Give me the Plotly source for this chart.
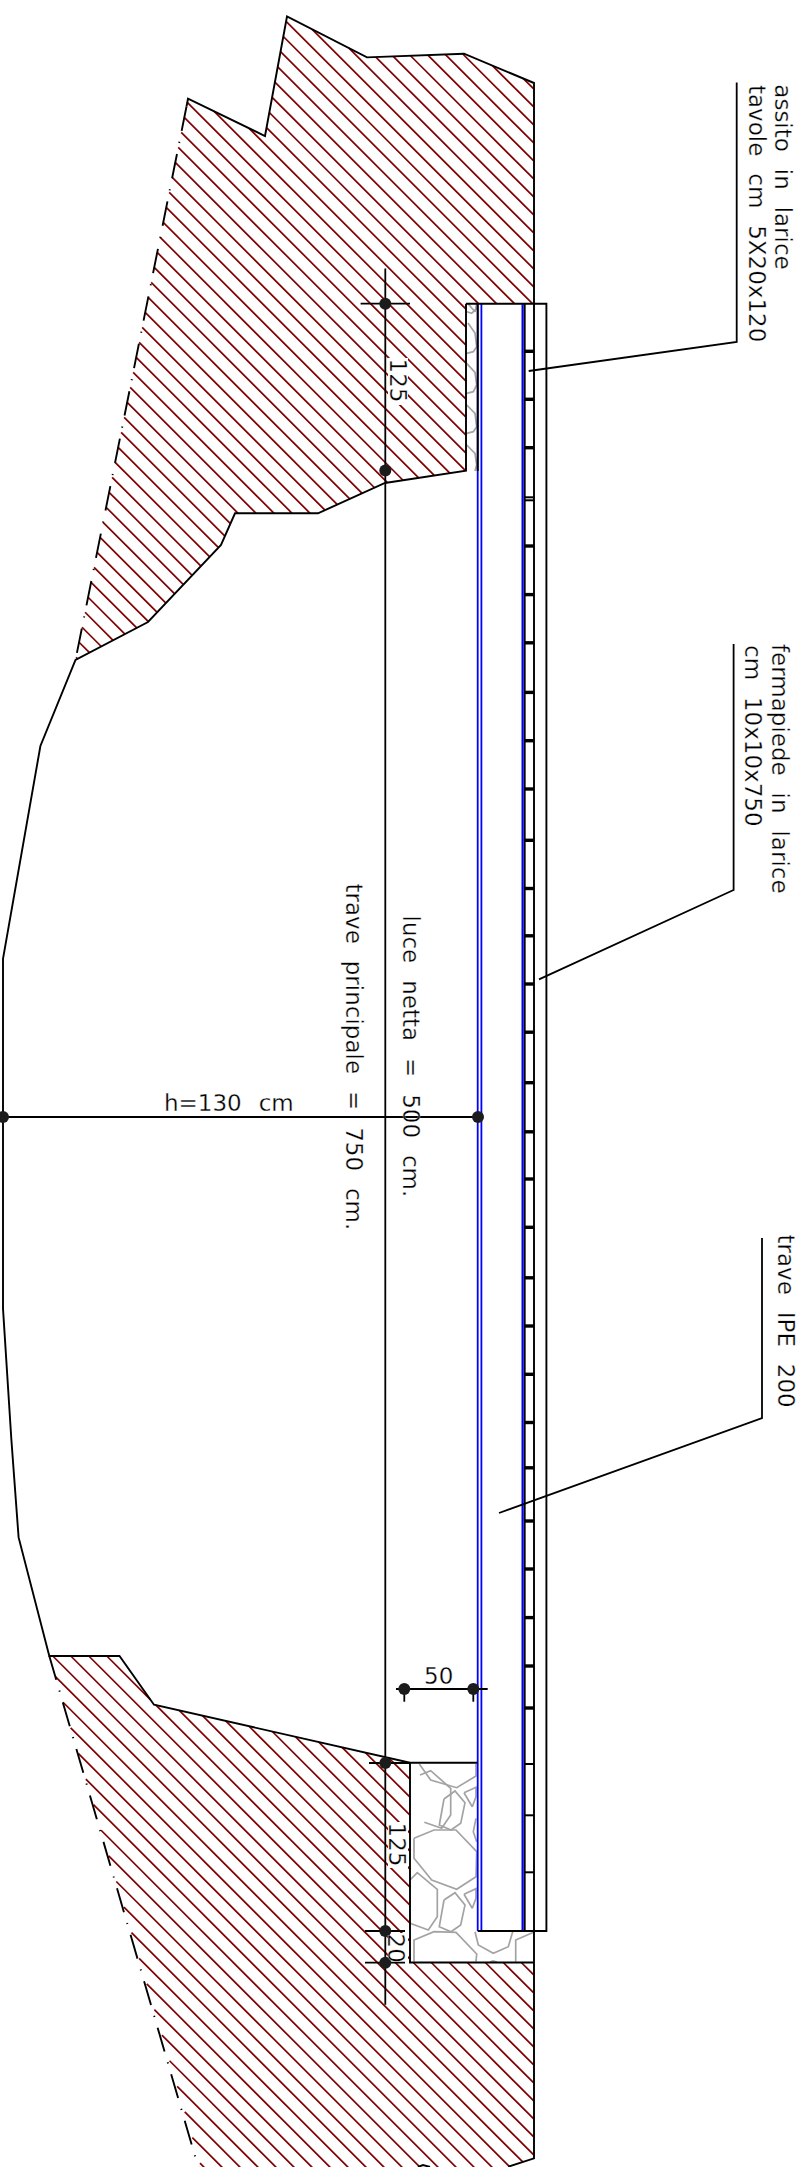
import plotly.graph_objects as go

W, H = 811, 2167

# ---- terrain outlines (drawing units = pixels of the sheet) ----
upper_bank = [(287, 16.5), (367, 57.4), (464, 53.7), (534, 83), (534, 303.7), (466, 303.7), (466, 470.6),
              (385, 483), (318, 513.3), (235, 513.3), (221, 545), (148, 622), (75.5, 660), (188, 98.7), (265, 136)]
lower_bank = [(49.3, 1656), (119.5, 1656), (154, 1704.7), (410, 1762.7), (410, 1962.5), (534, 1962.5),
              (534, 2158.3), (508.3, 2166.7), (505, 2170), (202, 2170)]
UPPER_PHASE, LOWER_PHASE, HATCH_STEP = 5.2, 1.2, 18

upper_outline_solid = [(186.5, 106.5), (188, 98.7), (265, 136), (287, 16.5), (367, 57.4), (464, 53.7), (534, 83),
                       (534, 303.7)]
upper_outline_b = [(466, 303.7), (466, 470.6), (385, 483), (318, 513.3), (235, 513.3), (221, 545), (148, 622),
                   (75.5, 660), (40.4, 746), (3, 958.8), (3, 1308.6), (11.4, 1440), (18.6, 1537.4), (49.3, 1656),
                   (119.5, 1656), (154, 1704.7), (410, 1762.7), (477.7, 1762.7)]
left_dash_upper = [(186.5, 106.5), (75.5, 660)]
left_dash_lower = [(49.3, 1656), (202, 2180)]
river_right = [(534, 303.7), (534, 2158.3), (508.3, 2166.7)]
abutment = [(410, 1762.7), (410, 1962.5), (534, 1962.5)]
deck_box = [(477.7, 1931), (546.4, 1931), (546.4, 303.7), (466, 303.7)]
wall_top = [(477.7, 303.7), (477.7, 471)]
inner_rail = [(524.7, 303.7), (524.7, 1931)]
bottom_bit = [(418, 2167), (423, 2165), (430, 2167)]

blue_a = [(477.7, 303.7), (477.7, 1931)]
blue_b = [(481.4, 303.7), (481.4, 1931)]
blue_c = [(522.6, 303.7), (522.6, 1931)]

plank_thick = [351.3, 399.3, 447.7, 546, 594.6, 642.8, 692.4, 740.7, 789, 840.3, 888.5, 935.8, 984, 1032.2,
               1082.7, 1131.8, 1179, 1227.3, 1277.8, 1326, 1374.3, 1422.5, 1467.8, 1521, 1569, 1617.6, 1666, 1708]
plank_thin = [497.3, 500.3, 1764, 1815.3, 1872.3]

# ---- dimension lines ----
dim_lines = [
    [(385.3, 268.6), (385.3, 2004.7)],
    [(360.6, 303.7), (410, 303.7)],
    [(3, 1117), (478, 1117)],
    [(396, 1689), (487.7, 1689)],
    [(404.3, 1689), (404.3, 1701.7)],
    [(473.3, 1689), (473.3, 1701.7)],
    [(369, 1763), (410, 1763)],
    [(365, 1931), (405, 1931)],
    [(365, 1962.7), (405, 1962.7)],
]
dim_dots_x = [385.3, 385.3, 3, 478, 404.3, 473.3, 385.3, 385.3, 385.3]
dim_dots_y = [303.7, 470.6, 1117, 1117, 1689, 1689, 1763, 1931, 1962.7]

# ---- leaders ----
leaders = [
    [(736.7, 82.6), (736.7, 342), (528.7, 371)],
    [(733.6, 644), (733.6, 890), (539, 979.4)],
    [(762, 1238), (762, 1418), (499, 1513)],
]

# ---- stones (grey) ----
stones = [
    [(420, 1775), (430.7, 1770.7), (450.7, 1788.3), (450.7, 1815), (441.7, 1828.3), (424.3, 1822.3)],
    [(419.3, 1764), (430.7, 1780), (456.7, 1787.7), (476, 1776), (476, 1764)],
    [(444, 1799), (455, 1791), (465, 1802.7), (460.7, 1823.3), (451, 1830), (439.3, 1825), (444, 1799)],
    [(464, 1792.7), (476, 1787.3), (476, 1796.7), (472.3, 1806.7), (464, 1792.7)],
    [(414, 1838.3), (434, 1830), (456, 1830), (476.7, 1851.7), (476, 1876.7), (456.7, 1889.3), (431.7, 1880),
     (414, 1858.3), (414, 1838.3)],
    [(410, 1880), (417.3, 1872.7), (437.3, 1889.3), (437.3, 1916.7), (428.3, 1930), (410, 1923.3)],
    [(444, 1900), (455, 1892.7), (465, 1905), (460.7, 1925), (451, 1931.7), (439.3, 1926.7), (444, 1900)],
    [(464, 1894.3), (476, 1888.7), (476, 1898.3), (472.3, 1908.3), (464, 1894.3)],
    [(414, 1961.7), (414, 1940), (434, 1931.7), (456, 1932.3), (476.7, 1954), (476, 1961.7)],
    [(476, 1818.3), (473.3, 1831.7), (476.7, 1841.7)],
    [(475, 1931.7), (478.3, 1945), (493.3, 1953.3), (508.3, 1946.7), (512.7, 1931.7)],
    [(515.7, 1961.7), (515.7, 1940), (534.7, 1931.7)],
    [(490, 1962), (493, 1961), (497, 1962)],
    # scalloped strip under the upper beam seat
    [(468, 323), (475, 333), (476.7, 346.7), (473.3, 351.7), (466.7, 353.3)],
    [(466.7, 363.3), (475, 372.3), (476.7, 385), (473.3, 391.7), (466.7, 393.3)],
    [(466.7, 405), (475, 413.3), (476.7, 426.7), (473.3, 431.7), (466.7, 433.3)],
    [(466.7, 445), (475, 453.3), (476.7, 465), (475, 471)],
    [(468.3, 304), (475, 311.7), (476.7, 304)],
    [(466.7, 311.7), (471.7, 313.3), (476.7, 308.3)],
]

# ---- white gaps in the hatch around dimension figures ----
hatch_gaps = [(388, 358, 408, 405), (388, 1822, 408, 1868), (388, 1933, 408, 1962)]

# ---- text: string, centre x, centre y, angle ----
GAP = "\u00a0\u00a0\u200a"
text_labels = ["h=130" + GAP + "cm", "50", "125", "125", "20",
               GAP.join(["luce", "netta", "=", "500", "cm."]),
               GAP.join(["trave", "principale", "=", "750", "cm."]),
               GAP.join(["assito", "in", "larice"]),
               GAP.join(["tavole", "cm", "5X20x120"]),
               GAP.join(["fermapiede", "in", "larice"]),
               GAP.join(["cm", "10x10x750"]),
               GAP.join(["trave", "IPE", "200"])]
text_x = [228.5, 438.7, 397.5, 397, 396, 410.5, 353.5, 782.7, 757, 780, 753, 785.5]
text_y = [1103, 1676, 380, 1844.5, 1947.5, 1056, 1057, 177, 213, 769, 736, 1321]
text_angle = [0, 0, 90, 90, 90, 90, 90, 90, 90, 90, 90, 90]

HATCH_RED = "#800000"
BLACK = "#000000"
GREY = "#a3a3a3"
BLUE = "#0000ff"
FONT = "DejaVu Sans"
FONT_SIZE = 23


def join(polys):
    xs, ys = [], []
    for p in polys:
        xs += [a for a, _ in p] + [None]
        ys += [b for _, b in p] + [None]
    return xs, ys


def hatch(poly, phase, step):
    """45 degree section hatching y = x + c clipped to a polygon."""
    cs = [y - x for x, y in poly]
    lo, hi = min(cs), max(cs)
    k = int((lo - phase) // step)
    out = []
    while phase + k * step <= hi:
        c = phase + k * step
        k += 1
        hits = []
        for (x1, y1), (x2, y2) in zip(poly, poly[1:] + poly[:1]):
            d1, d2 = y1 - x1 - c, y2 - x2 - c
            if d1 * d2 < 0:
                t = d1 / (d1 - d2)
                hits.append(x1 + t * (x2 - x1))
        hits.sort()
        for a, b in zip(hits[0::2], hits[1::2]):
            out.append([(a, a + c), (b, b + c)])
    return out


fig = go.Figure()


def add(polys, color, width, dash=None):
    xs, ys = join(polys)
    fig.add_trace(go.Scatter(x=xs, y=ys, mode="lines", hoverinfo="skip", showlegend=False,
                             line=dict(color=color, width=width, dash=dash, simplify=False)))


add(hatch(upper_bank, UPPER_PHASE, HATCH_STEP) + hatch(lower_bank, LOWER_PHASE, HATCH_STEP), HATCH_RED, 1.7)
for x0, y0, x1, y1 in hatch_gaps:
    fig.add_trace(go.Scatter(x=[x0, x1, x1, x0, x0], y=[y0, y0, y1, y1, y0], mode="lines", fill="toself",
                             fillcolor="white", line=dict(width=0, color="white"),
                             hoverinfo="skip", showlegend=False))
add(stones, GREY, 1.7)
add([blue_a, blue_b], BLUE, 1.8)
add([blue_c], BLUE, 2.2)
add([upper_outline_solid, upper_outline_b, river_right, abutment, deck_box, wall_top, inner_rail, bottom_bit], BLACK, 1.9)
add([left_dash_upper], BLACK, 1.9, dash="24.8px,11.2px,1.2px,11.2px")
add([left_dash_lower], BLACK, 1.9, dash="24.8px,11.2px,1.2px,11.2px")
add([[(525, y), (534, y)] for y in plank_thick], BLACK, 3.4)
add([[(525, y), (534, y)] for y in plank_thin], BLACK, 2)
add(dim_lines, BLACK, 1.8)
add(leaders, BLACK, 1.8)
fig.add_trace(go.Scatter(x=dim_dots_x, y=dim_dots_y, mode="markers", hoverinfo="skip", showlegend=False,
                         marker=dict(size=12, color="#1c1c1c", line=dict(width=0))))

for s, x, y, a in zip(text_labels, text_x, text_y, text_angle):
    fig.add_annotation(text=s, x=x, y=y, xref="x", yref="y", textangle=a, showarrow=False,
                       xanchor="center", yanchor="middle",
                       font=dict(family=FONT, size=FONT_SIZE, color="#000000"))

fig.update_layout(width=W, height=H, margin=dict(l=0, r=0, t=0, b=0), paper_bgcolor="white", plot_bgcolor="white",
                  showlegend=False,
                  xaxis=dict(range=[0, W], visible=False, fixedrange=True),
                  yaxis=dict(range=[H, 0], visible=False, fixedrange=True))

fig.write_html("out.html", config=dict(displayModeBar=False, staticPlot=True),
               post_script="document.body.style.margin='0';document.documentElement.style.overflow='hidden';"
                           "document.querySelectorAll('.annotation-text').forEach(function(t){"
                           "t.style.stroke='white';t.style.strokeWidth='0.3px';});")
